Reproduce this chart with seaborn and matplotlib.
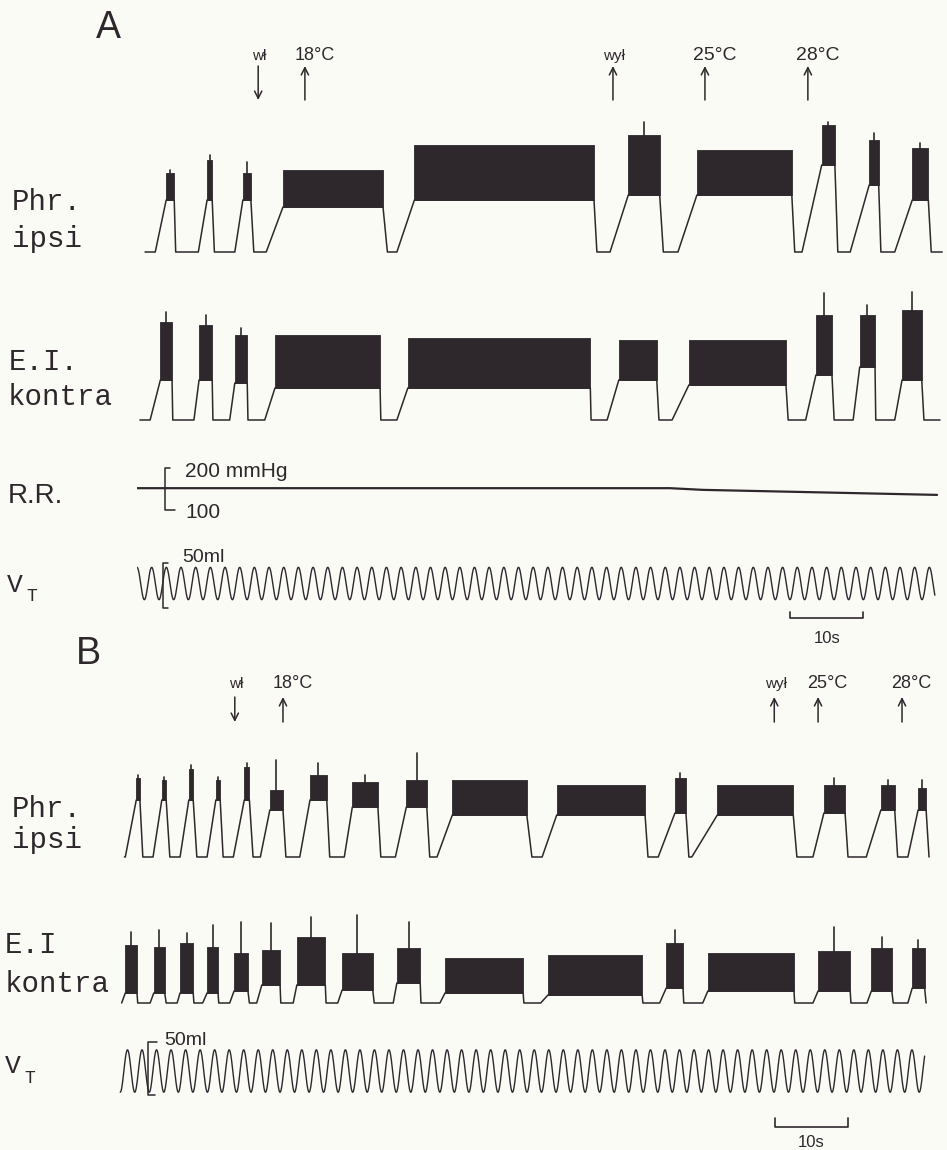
import numpy as np
import pandas as pd
import matplotlib
matplotlib.use("Agg")
import matplotlib.pyplot as plt
import seaborn as sns

W, H = 947, 1150
PAPER = "#fbfbf6"
INK = "#2e282c"

# ---------------- data (time in s, 10 s = 73 px on the record) ----------------
# Panel A, Phr. ipsi (amplitude, arbitrary units)
phrA_onset    = [2.5, 8.4, 13.4, 17.7, 35.6, 64.8, 74.1, 91.1, 97.7, 103.8]
phrA_band_on  = [4.0, 9.6, 14.5, 20.0, 38.0, 67.3, 76.7, 93.8, 100.3, 106.2]
phrA_band_off = [5.1, 10.3, 15.6, 33.7, 62.6, 71.6, 89.7, 95.6, 101.6, 108.4]
phrA_offset   = [5.3, 10.6, 16.0, 34.3, 63.0, 72.1, 90.1, 96.0, 101.9, 108.8]
phrA_lo       = [52, 52, 52, 45, 52, 57, 57, 87, 67, 52]
phrA_hi       = [79, 92, 79, 82, 107, 117, 102, 127, 112, 104]
phrA_peak     = [82, 97, 90, 105, 134, 130, 129, 130, 119, 109]

# Panel A, E.I. kontra
eiA_onset    = [1.8, 7.8, 12.7, 17.5, 35.6, 64.4, 73.3, 91.6, 98.1, 103.8]
eiA_band_on  = [3.2, 8.5, 13.4, 18.9, 37.1, 66.0, 75.6, 93.0, 99.0, 104.8]
eiA_band_off = [4.8, 10.3, 15.1, 33.3, 62.1, 71.2, 88.9, 95.2, 101.1, 107.5]
eiA_offset   = [4.9, 10.4, 15.2, 33.4, 62.2, 71.5, 89.2, 95.5, 101.2, 107.8]
eiA_lo       = [40, 40, 37, 32, 32, 40, 35, 45, 53, 40]
eiA_hi       = [98, 95, 85, 85, 82, 80, 80, 105, 105, 110]
eiA_peak     = [108, 105, 92, 105, 120, 118, 112, 127, 115, 128]

# Panel A, R.R. (mmHg)
rrA_t = [0.0, 73.0, 77.5, 109.6]
rrA_p = [152, 152, 148, 136]

# Panel A, V_T (ml)
vtA_start, vtA_end, vtA_first_peak, vtA_period, vtA_amp = 0.0, 109.3, 0.0, 2.01, 18

# Panel A events
evA_time  = [16.6, 23.0, 65.2, 77.8, 91.9]
evA_label = ["wł", "18°C", "wył", "25°C", "28°C"]
evA_down  = [True, False, False, False, False]

# Panel B, Phr. ipsi
phrB_onset    = [1.0, 4.8, 8.5, 12.2, 15.8, 19.5, 24.9, 31.0, 38.0, 43.7, 58.1, 74.0, 78.6, 95.2, 102.5, 108.2]
phrB_band_on  = [2.5, 6.0, 9.7, 13.4, 17.3, 20.8, 26.3, 32.1, 39.5, 45.8, 60.1, 76.3, 82.1, 96.7, 104.5, 109.6]
phrB_band_off = [3.0, 6.6, 10.3, 14.0, 18.0, 22.6, 28.6, 35.6, 42.3, 56.0, 72.2, 77.8, 92.5, 99.6, 106.4, 110.7]
phrB_offset   = [3.4, 7.1, 10.8, 14.4, 18.5, 23.0, 29.0, 36.0, 42.7, 56.7, 72.6, 78.2, 93.0, 100.0, 106.8, 111.1]
phrB_lo       = [57, 57, 57, 57, 57, 47, 57, 50, 50, 42, 42, 44, 42, 44, 47, 47]
phrB_hi       = [79, 77, 88, 77, 90, 67, 82, 75, 77, 77, 72, 79, 72, 72, 72, 69]
phrB_peak     = [82, 80, 92, 80, 94, 97, 94, 82, 104, 89, 87, 84, 90, 79, 77, 77]

# Panel B, E.I kontra
eiB_onset    = [0.5, 4.4, 8.1, 11.6, 15.3, 19.0, 24.0, 30.1, 37.7, 44.1, 57.9, 74.2, 80.1, 95.2, 102.6, 108.2]
eiB_band_on  = [1.0, 4.9, 8.5, 12.2, 15.9, 19.7, 24.5, 30.7, 38.2, 44.8, 58.9, 75.1, 80.8, 95.9, 103.2, 108.8]
eiB_band_off = [2.6, 6.4, 10.3, 13.7, 17.8, 22.2, 28.4, 34.9, 41.4, 55.5, 71.8, 77.4, 92.6, 100.3, 106.0, 110.5]
eiB_offset   = [2.7, 6.6, 10.4, 13.8, 18.0, 22.3, 28.5, 35.1, 41.5, 55.6, 71.9, 77.5, 92.7, 100.4, 106.2, 110.7]
eiB_lo       = [10, 10, 10, 10, 12, 18, 18, 13, 20, 10, 8, 15, 12, 12, 12, 15]
eiB_hi       = [58, 56, 60, 56, 50, 53, 66, 50, 55, 45, 48, 60, 50, 52, 55, 55]
eiB_peak     = [71, 73, 70, 78, 81, 80, 86, 88, 81, 86, 83, 73, 83, 76, 66, 63]

# Panel B, V_T (ml)
vtB_start, vtB_end, vtB_first_peak, vtB_period, vtB_amp = 0.3, 110.5, 1.3, 1.99, 20

# Panel B events
evB_time  = [16.0, 22.6, 89.9, 95.9, 107.4]
evB_label = ["wł", "18°C", "wył", "25°C", "28°C"]
evB_down  = [True, False, False, False, False]


# ---------------- helpers ----------------
def px_axes(x0, y0, x1, y1):
    ax = fig.add_axes([x0 / W, 1 - y1 / H, (x1 - x0) / W, (y1 - y0) / H])
    ax.set_facecolor("none")
    ax.axis("off")
    return ax


def burst_trace(t_start, t_end, onset, band_on, band_off, offset, lo):
    t, y = [t_start], [0]
    for a, b, c, d, l in zip(onset, band_on, band_off, offset, lo):
        t += [a, b, c, d]
        y += [0, l, l, 0]
    t.append(t_end)
    y.append(0)
    return pd.DataFrame({"t": t, "amp": y})


def draw_bursts(ax, df, band_on, band_off, lo, hi, peak):
    sns.lineplot(data=df, x="t", y="amp", ax=ax, color=INK, lw=1.1,
                 sort=False, estimator=None)
    for b, c, l, h, p in zip(band_on, band_off, lo, hi, peak):
        ax.fill_between([b, c], [l, l], [h, h], color=INK, lw=0.6)
        # single spike only on the short bursts
        if c - b < 5:
            m = (b + c) / 2
            ax.plot([m, m], [h - 2, p], color=INK, lw=1.2)


def draw_events(ax, times, labels, down, y_lo, y_hi, y_txt, sizes):
    for t, lab, dn, fs in zip(times, labels, down, sizes):
        head, tail = (y_lo, y_hi) if dn else (y_hi, y_lo)
        ax.annotate("", xy=(t, head), xytext=(t, tail),
                    arrowprops=dict(arrowstyle="->", lw=1.1, color=INK,
                                    mutation_scale=13, shrinkA=0, shrinkB=0))
        dx = 1.3 if "C" in lab else 0.2
        ax.text(t + dx, y_txt, lab, ha="center", va="baseline",
                fontsize=fs, color=INK)


def vt_frame(t0, t1, first_peak, period, amp):
    t = np.linspace(t0, t1, 4000)
    v = amp * np.cos(2 * np.pi * (t - first_peak) / period)
    return pd.DataFrame({"t": t, "ml": v})


def scale_bar(ax, t0, t1, y, y_tick, y_txt):
    ax.plot([t0, t0, t1, t1], [y_tick, y, y, y_tick], color=INK, lw=1.2)
    ax.text((t0 + t1) / 2, y_txt, "10s", ha="center", va="baseline",
            fontsize=12, color=INK)


# ---------------- figure ----------------
sns.set_theme(style="white")
plt.rcParams["font.family"] = ["Liberation Sans", "DejaVu Sans"]

fig = plt.figure(figsize=(W / 100, H / 100), dpi=100, facecolor=PAPER)

xA = (0, (945 - 137) / 7.3)
xB = (0, (945 - 118) / 7.3)

# ---- Panel A ----
ax = px_axes(137, 35, 945, 262)
ax.set_xlim(*xA); ax.set_ylim(-10, 217)
draw_bursts(ax, burst_trace(1.1, 110.3, phrA_onset, phrA_band_on, phrA_band_off,
                            phrA_offset, phrA_lo),
            phrA_band_on, phrA_band_off, phrA_lo, phrA_hi, phrA_peak)
draw_events(ax, evA_time, evA_label, evA_down, 152, 186, 192, [11, 13, 11, 14, 14])

ax = px_axes(137, 285, 945, 432)
ax.set_xlim(*xA); ax.set_ylim(-12, 135)
draw_bursts(ax, burst_trace(0.4, 110.0, eiA_onset, eiA_band_on, eiA_band_off,
                            eiA_offset, eiA_lo),
            eiA_band_on, eiA_band_off, eiA_lo, eiA_hi, eiA_peak)

ax = px_axes(137, 455, 945, 525)
ax.set_xlim(*xA); ax.set_ylim(64.3, 231)
sns.lineplot(x=rrA_t, y=rrA_p, ax=ax, color=INK, lw=1.6, sort=False, estimator=None)
ax.plot([4.5, 3.8, 3.8, 5.2], [200, 200, 100, 100], color=INK, lw=1.1)
ax.text(6.6, 179, "200 mmHg", fontsize=15, color=INK, va="baseline")
ax.text(6.6, 81, "100", fontsize=15, color=INK, va="baseline")

ax = px_axes(137, 545, 945, 650)
ax.set_xlim(*xA); ax.set_ylim(-73.9, 42.8)
sns.lineplot(data=vt_frame(vtA_start, vtA_end, vtA_first_peak, vtA_period, vtA_amp),
             x="t", y="ml", ax=ax, color=INK, lw=1.0, sort=False, estimator=None)
ax.plot([4.3, 3.6, 3.6, 4.3], [22.8, 22.8, -27.2, -27.2], color=INK, lw=1.1)
ax.text(6.2, 23.5, "50ml", fontsize=14, color=INK, va="baseline")
scale_bar(ax, 89.5, 99.5, -38.3, -31.7, -66.1)

# ---- Panel B ----
ax = px_axes(118, 660, 945, 870)
ax.set_xlim(*xB); ax.set_ylim(-13, 197)
draw_bursts(ax, burst_trace(0.9, 111.1, phrB_onset, phrB_band_on, phrB_band_off,
                            phrB_offset, phrB_lo),
            phrB_band_on, phrB_band_off, phrB_lo, phrB_hi, phrB_peak)
draw_events(ax, evB_time, evB_label, evB_down, 135, 160, 169, [11, 13, 11, 13, 13])

ax = px_axes(118, 900, 945, 1012)
ax.set_xlim(*xB); ax.set_ylim(-9, 103)
draw_bursts(ax, burst_trace(0.5, 110.7, eiB_onset, eiB_band_on, eiB_band_off,
                            eiB_offset, eiB_lo),
            eiB_band_on, eiB_band_off, eiB_lo, eiB_hi, eiB_peak)

ax = px_axes(118, 1030, 945, 1152)
ax.set_xlim(*xB); ax.set_ylim(-76.4, 38.7)
sns.lineplot(data=vt_frame(vtB_start, vtB_end, vtB_first_peak, vtB_period, vtB_amp),
             x="t", y="ml", ax=ax, color=INK, lw=1.0, sort=False, estimator=None)
ax.plot([5.3, 4.1, 4.1, 5.0], [27.4, 27.4, -22.6, -22.6], color=INK, lw=1.1)
ax.text(6.4, 24.5, "50ml", fontsize=14, color=INK, va="baseline")
scale_bar(ax, 90.0, 100.0, -52.8, -44.3, -71.7)

# ---- channel labels ----
def label(x, y, s, fs=21, fam="Liberation Mono", **kw):
    fig.text(x / W, 1 - y / H, s, fontsize=fs, family=fam, color=INK,
             va="baseline", ha="left", **kw)

fig.text(108 / W, 1 - 28 / H, "A", fontsize=27, color=INK, ha="center", va="center")
fig.text(88 / W, 1 - 654 / H, "B", fontsize=27, color=INK, ha="center", va="center")

label(12, 210, "Phr.")
label(12, 247, "ipsi")
label(9, 370, "E.I.")
label(8, 405, "kontra")
label(8, 503, "R.R.", fs=20, fam="Liberation Sans")
label(7, 592, "V", fs=19)
label(26, 601, "T", fs=13)

label(12, 817, "Phr.")
label(12, 848, "ipsi")
label(5, 953, "E.I")
label(5, 992, "kontra")
label(5, 1073, "V", fs=19)
label(24, 1083, "T", fs=13)

fig.savefig("out.png", dpi=100, facecolor=PAPER)
